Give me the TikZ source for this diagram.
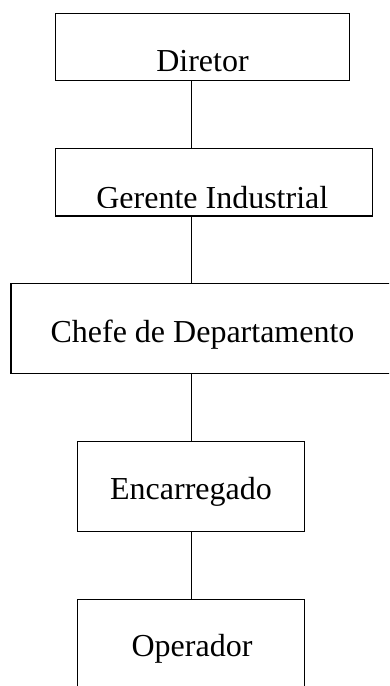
\documentclass[tikz,border=0pt]{standalone}
\usepackage{fontspec}
\setmainfont{Liberation Serif}
\begin{document}
\begin{tikzpicture}[x=1pt,y=-1pt,
  box/.style={draw=black,line width=1.3pt,rectangle,inner sep=0pt,fill=none},
  lbl/.style={font=\fontsize{32}{38}\selectfont,inner sep=0pt,anchor=base},
  link/.style={draw=black,line width=1.1pt}]
\useasboundingbox (0,0) rectangle (389,686);
\clip (0,0) rectangle (389,686);
% boxes
\node[box,minimum width=293.6pt,minimum height=67.4pt] (b1) at (202.5,47) {};
\node[box,minimum width=316.6pt,minimum height=67.7pt] (b2) at (214,182.15) {};
\node[box,minimum width=383pt,minimum height=90pt] (b3) at (202.5,328.3) {};
\node[box,minimum width=226.6pt,minimum height=90pt] (b4) at (191,486.7) {};
\node[box,minimum width=226.6pt,minimum height=92pt] (b5) at (191,645.3) {};
% labels
\node[lbl] (t1) at (202.5,71.7) {Diretor};
\begin{scope}
\clip (0,150) rectangle (389,207);
\node[lbl] (t2) at (212.3,208.5) {Gerente Industrial};
\end{scope}
\node[lbl] (t3) at (202.5,342.7) {Chefe de Departamento};
\node[lbl] (t4) at (191,499.3) {Encarregado};
\node[lbl] (t5) at (192,656.7) {Operador};
% connectors
\coordinate (cx) at (191.7,0);
\draw[link] (b1.south -| cx) -- (b2.north -| cx);
\draw[link] (b2.south -| cx) -- (b3.north -| cx);
\draw[link] (b3.south -| cx) -- (b4.north -| cx);
\draw[link] (b4.south -| cx) -- (b5.north -| cx);
\end{tikzpicture}
\end{document}
